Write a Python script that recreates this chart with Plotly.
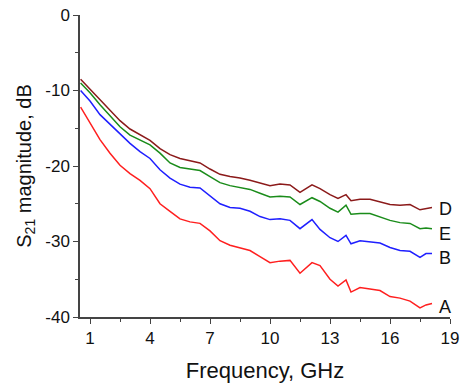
import plotly.graph_objects as go

freq = [0.53, 1.0, 1.5, 2.0, 2.5, 3.0, 3.5, 4.0, 4.5, 5.0, 5.5, 6.0, 6.5, 7.0, 7.5,
        8.0, 8.5, 9.0, 9.5, 10.0, 10.5, 11.0, 11.5, 12.1, 12.5, 13.0, 13.4, 13.8,
        14.05, 14.5, 15.0, 15.5, 16.0, 16.5, 17.0, 17.5, 17.8, 18.1]

s21_A = [-12.2, -14.3, -16.5, -18.3, -19.9, -21.0, -21.9, -23.0, -25.0, -26.0, -27.0,
         -27.4, -27.6, -28.6, -29.9, -30.5, -30.9, -31.2, -32.0, -32.8, -32.6, -32.5,
         -34.2, -32.8, -33.2, -35.0, -35.9, -35.1, -36.7, -36.1, -36.3, -36.5, -37.3,
         -37.5, -37.9, -38.8, -38.4, -38.2]
s21_B = [-10.0, -11.4, -13.2, -14.5, -15.8, -17.0, -18.1, -19.0, -20.5, -21.6, -22.4,
         -22.8, -22.9, -24.0, -25.0, -25.5, -25.6, -26.0, -26.7, -27.1, -27.0, -27.2,
         -28.3, -27.1, -28.4, -29.5, -30.0, -29.2, -30.3, -29.9, -30.0, -30.2, -30.8,
         -31.2, -31.3, -32.1, -31.6, -31.6]
s21_E = [-9.0, -10.3, -11.9, -13.3, -14.8, -15.9, -16.5, -17.2, -18.3, -19.6, -20.2,
         -20.4, -20.6, -21.4, -22.2, -22.6, -22.9, -23.1, -23.6, -24.1, -24.0, -24.1,
         -25.1, -24.2, -24.7, -25.6, -26.1, -25.2, -26.4, -26.3, -26.3, -26.8, -27.2,
         -27.5, -27.6, -28.3, -28.2, -28.3]
s21_D = [-8.5, -9.8, -11.2, -12.6, -14.0, -15.1, -15.8, -16.6, -17.7, -18.5, -19.0,
         -19.3, -19.6, -20.4, -21.1, -21.4, -21.6, -21.9, -22.2, -22.6, -22.4, -22.5,
         -23.5, -22.5, -23.0, -23.8, -24.3, -23.8, -24.6, -24.4, -24.4, -24.7, -25.1,
         -25.2, -25.1, -25.8, -25.6, -25.5]

series = [("A", s21_A, "#ff1f1f", -4),
          ("B", s21_B, "#1f1fff", -4),
          ("E", s21_E, "#1a8c1a", -5),
          ("D", s21_D, "#8b1a1a", -1)]

x_ticks = [1, 4, 7, 10, 13, 16, 19]
y_ticks = [0, -10, -20, -30, -40]

FONT = "Liberation Sans, Arial, sans-serif"

fig = go.Figure()
for name, vals, color, ys in series:
    fig.add_trace(go.Scatter(x=freq, y=vals, mode="lines", name=name,
                             line=dict(color=color, width=1.5), showlegend=False))
    fig.add_annotation(x=freq[-1], y=vals[-1], text=name, showarrow=False,
                       xanchor="left", yanchor="middle", xshift=5, yshift=ys,
                       font=dict(family=FONT, size=18, color="#111"))

axis_common = dict(showline=True, linecolor="#444", linewidth=1.5, showgrid=False,
                   zeroline=False, ticks="outside", ticklen=5, tickwidth=1.2,
                   tickcolor="#444", mirror=False, automargin=False,
                   tickfont=dict(family=FONT, size=17, color="#111"))

fig.update_xaxes(range=[0.5, 19], tickvals=x_ticks, ticktext=[str(v) for v in x_ticks],
                 minor=dict(ticks="outside", ticklen=3, tickcolor="#444", dtick=1.5,
                            tick0=1),
                 title=dict(text="Frequency, GHz", font=dict(family=FONT, size=22, color="#111"),
                            standoff=15),
                 **axis_common)
fig.update_yaxes(range=[-40, 0], tickvals=y_ticks, ticktext=[str(v) for v in y_ticks],
                 minor=dict(ticks="outside", ticklen=3, tickcolor="#444", dtick=5,
                            tick0=0),
                 title=dict(text="S<sub>21</sub> magnitude, dB",
                            font=dict(family=FONT, size=20, color="#111"), standoff=8),
                 **axis_common)

fig.update_layout(width=461, height=383, margin=dict(l=80, r=11, t=15, b=66),
                  plot_bgcolor="white", paper_bgcolor="white")

fig.write_html("out.html")
